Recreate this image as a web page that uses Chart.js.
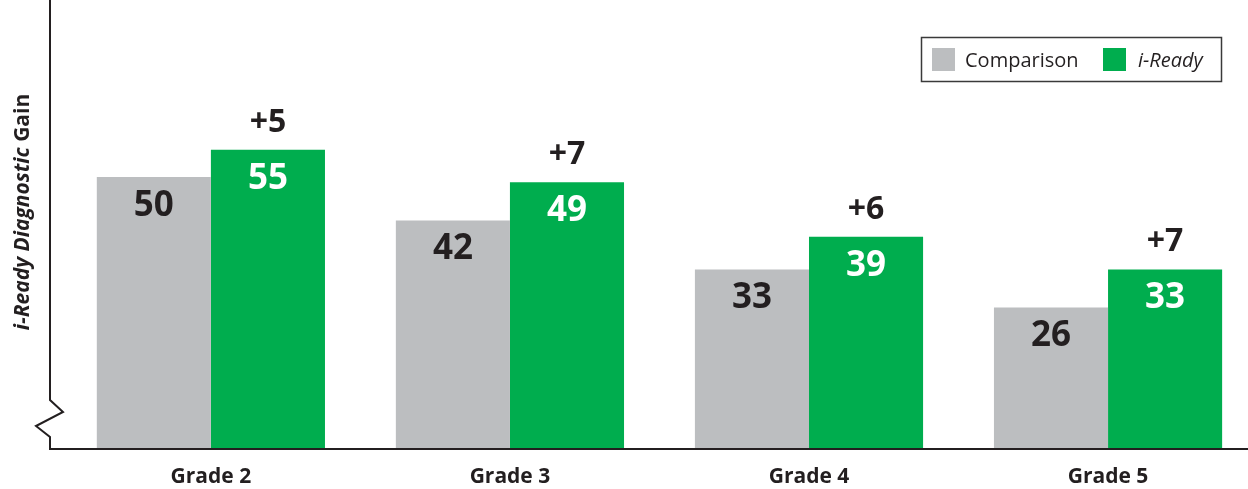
<!DOCTYPE html>
<html>
<head>
<meta charset="utf-8">
<script src="https://cdn.jsdelivr.net/npm/chart.js@4/dist/chart.umd.min.js"></script>
<style>
  html, body { margin: 0; padding: 0; background: #fff; }
  #wrap { width: 1248px; height: 489px; }
</style>
</head>
<body>
<div id="wrap"><canvas id="gainChart"></canvas></div>
<script>
const grades = ["Grade 2", "Grade 3", "Grade 4", "Grade 5"];
const comparisonGain = [50, 42, 33, 26];
const ireadyGain = [55, 49, 39, 33];
const seriesNames = ["Comparison", "i-Ready"];

const INK = "#231f20";
const GRAY = "#bcbec0";
const GREEN = "#00ad4e";
const FONT = "'Open Sans', sans-serif";

// numbers on / above the bars
const barLabels = {
  id: "barLabels",
  afterDatasetsDraw(chart) {
    const ctx = chart.ctx;
    const comp = chart.getDatasetMeta(0).data;
    const iready = chart.getDatasetMeta(1).data;
    ctx.save();
    ctx.textAlign = "center";
    ctx.textBaseline = "alphabetic";
    ctx.font = "700 35px " + FONT;
    comp.forEach((bar, i) => {
      ctx.fillStyle = INK;
      ctx.fillText(comparisonGain[i], bar.x, bar.y + 39);
    });
    iready.forEach((bar, i) => {
      ctx.fillStyle = "#fff";
      ctx.fillText(ireadyGain[i], bar.x, bar.y + 39);
    });
    ctx.font = "700 32px " + FONT;
    ctx.fillStyle = INK;
    iready.forEach((bar, i) => {
      ctx.fillText("+" + (ireadyGain[i] - comparisonGain[i]), bar.x, bar.y - 18);
    });
    ctx.restore();
  }
};

// axis lines with the break on the y axis
const frame = {
  id: "frame",
  afterDatasetsDraw(chart) {
    const ctx = chart.ctx;
    const a = chart.chartArea;
    const b = a.bottom;
    ctx.save();
    ctx.strokeStyle = INK;
    ctx.lineWidth = 2;
    ctx.beginPath();
    ctx.moveTo(a.left, a.top);
    ctx.lineTo(a.left, b - 49);
    ctx.lineTo(a.left + 13, b - 37);
    ctx.lineTo(a.left - 14, b - 23);
    ctx.lineTo(a.left, b - 12);
    ctx.lineTo(a.left, b);
    ctx.lineTo(a.right, b);
    ctx.stroke();

    // y axis title: italic product name + regular word
    const part1 = "i-Ready Diagnostic";
    const part2 = " Gain";
    ctx.fillStyle = INK;
    ctx.font = "italic 700 21px " + FONT;
    const w1 = ctx.measureText(part1).width;
    ctx.font = "700 21px " + FONT;
    const w2 = ctx.measureText(part2).width;
    ctx.translate(29, 212);
    ctx.rotate(-Math.PI / 2);
    ctx.textBaseline = "alphabetic";
    ctx.textAlign = "left";
    const x0 = -(w1 + w2) / 2;
    ctx.font = "italic 700 21px " + FONT;
    ctx.fillText(part1, x0, 0);
    ctx.font = "700 21px " + FONT;
    ctx.fillText(part2, x0 + w1, 0);
    ctx.restore();
  }
};

// boxed legend, second entry in italics
const legendBox = {
  id: "legendBox",
  afterDraw(chart) {
    const ctx = chart.ctx;
    ctx.save();
    ctx.strokeStyle = "#3a3a3a";
    ctx.lineWidth = 1.5;
    ctx.strokeRect(921.5, 37.5, 300, 44);
    ctx.fillStyle = GRAY;
    ctx.fillRect(932, 48, 23, 23);
    ctx.fillStyle = GREEN;
    ctx.fillRect(1103, 48, 23, 23);
    ctx.fillStyle = INK;
    ctx.textBaseline = "alphabetic";
    ctx.textAlign = "left";
    ctx.font = "400 20px " + FONT;
    ctx.fillText(seriesNames[0], 965, 67);
    ctx.font = "italic 400 20px " + FONT;
    ctx.fillText(seriesNames[1], 1138, 67);
    ctx.restore();
  }
};

new Chart(document.getElementById("gainChart"), {
  type: "bar",
  data: {
    datasets: [
      {
        label: seriesNames[0],
        data: grades.map((g, i) => ({ x: i, y: comparisonGain[i] })),
        backgroundColor: GRAY,
        categoryPercentage: 0.763,
        barPercentage: 1
      },
      {
        label: seriesNames[1],
        data: grades.map((g, i) => ({ x: i, y: ireadyGain[i] })),
        backgroundColor: GREEN,
        categoryPercentage: 0.763,
        barPercentage: 1
      }
    ]
  },
  options: {
    responsive: true,
    maintainAspectRatio: false,
    animation: false,
    layout: { padding: { left: 50, top: 0, right: 0, bottom: 0 } },
    plugins: {
      legend: { display: false },
      tooltip: { enabled: false }
    },
    scales: {
      x: {
        type: "linear",
        min: -0.538,
        max: 3.468,
        bounds: "data",
        offset: false,
        grid: { display: false, drawTicks: false },
        border: { display: false },
        afterBuildTicks: s => { s.ticks = grades.map((g, i) => ({ value: i })); },
        afterFit: s => { s.height = 40; },
        ticks: {
          callback: v => grades[v],
          color: INK,
          font: { family: FONT, size: 21, weight: "700" },
          padding: 15,
          maxRotation: 0,
          autoSkip: false
        }
      },
      y: { display: false, min: 0, max: 82.5 }
    }
  },
  plugins: [barLabels, frame, legendBox]
});
</script>
</body>
</html>
